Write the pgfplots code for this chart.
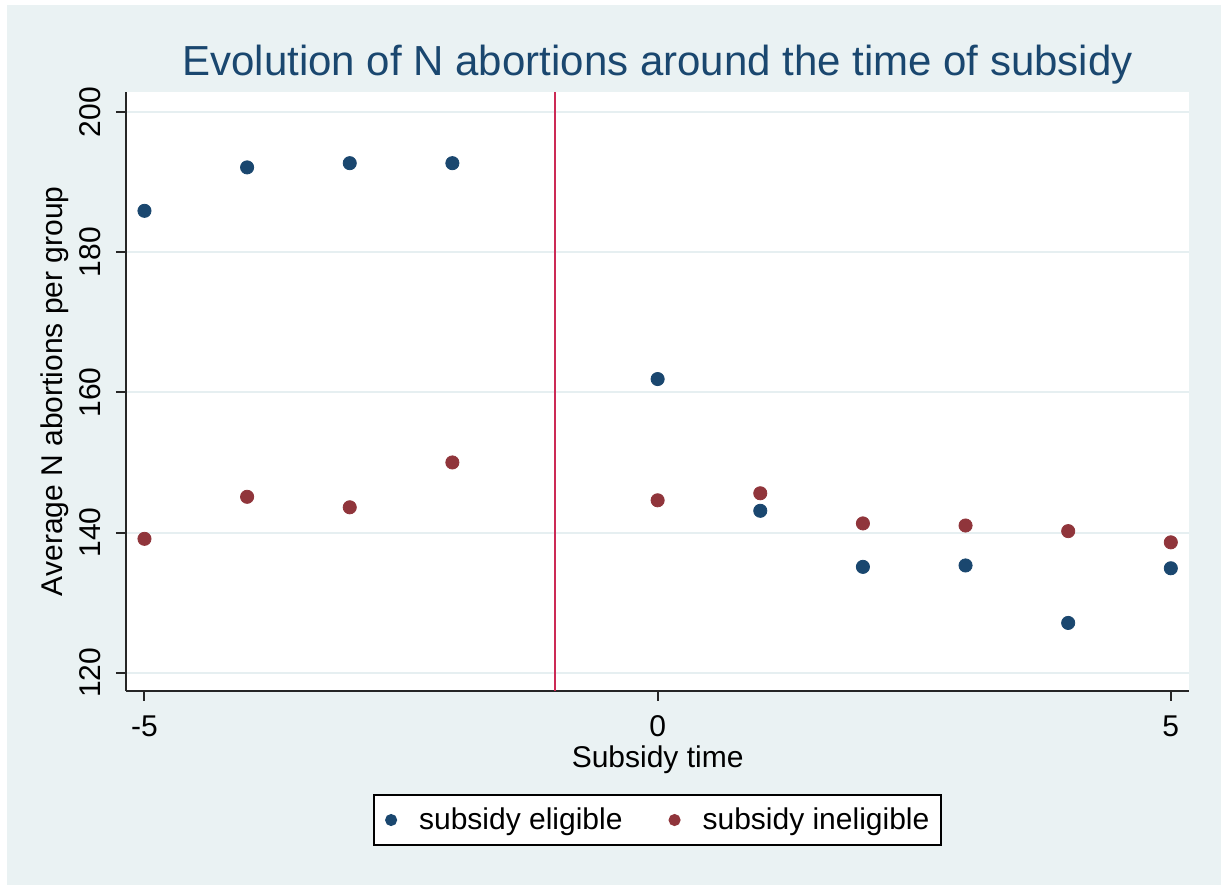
\documentclass[border=0pt]{standalone}
\usepackage{fontspec}
\setmainfont{Liberation Sans}
\usepackage{pgfplots}
\pgfplotsset{compat=1.18}

\definecolor{stbg}{HTML}{EAF2F3}
\definecolor{stnavy}{HTML}{1A476F}
\definecolor{stmaroon}{HTML}{90353B}
\definecolor{stline}{HTML}{CC2A55}
\definecolor{stgrid}{HTML}{E6EFF1}

\begin{document}
\begin{tikzpicture}
\useasboundingbox (0,0) rectangle (610.5pt,442.5pt);
\fill[white] (0,0) rectangle (610.5pt,442.5pt);
\fill[stbg] (3.5pt,0) rectangle (610.5pt,440pt);
\begin{axis}[
	at={(63pt,97.15pt)}, anchor=south west,
	scale only axis, width=531.65pt, height=299.5pt,
	xmin=-5.18, xmax=5.18, ymin=117.43, ymax=202.9,
	axis x line*=bottom, axis y line*=left,
	axis line style={line width=1pt, color=black!85},
	axis background/.style={fill=white},
	tick align=outside, major tick length=5pt,
	tick style={line width=1pt, color=black!85},
	xtick={-5,0,5}, xticklabels={-5,0,5},
	ytick={120,140,160,180,200}, yticklabels={120,140,160,180,200},
	ymajorgrids, grid style={stgrid, line width=1pt},
	every tick label/.append style={font=\fontsize{15}{18}\selectfont},
	xticklabel style={anchor=base}, xticklabel shift=18pt,
	yticklabel style={rotate=90, anchor=base}, yticklabel shift=8pt,
	title={Evolution of N abortions around the time of subsidy},
	title style={at={(0.5,1)}, anchor=base, yshift=1.85pt, font=\fontsize{21}{25}\selectfont, text=stnavy},
	xlabel={Subsidy time},
	xlabel style={at={(axis description cs:0.5,0)}, anchor=base, yshift=-38.2pt, font=\fontsize{15}{18}\selectfont},
	ylabel={Average N abortions per group},
	ylabel style={at={(axis description cs:-0.06,0.5)}, anchor=base, font=\fontsize{15}{18}\selectfont},
	legend columns=2,
	legend cell align=left,
	legend image code/.code={
		\path[draw=none, fill=none] (-2.6pt,-3pt) rectangle (14pt,3pt);
		\draw[#1, mark size=2.5pt] plot coordinates {(0pt,0pt)};
	},
	legend style={at={(0.5,-0.2159)}, anchor=center, draw=black, line width=1pt, fill=white,
		inner xsep=6pt, inner ysep=6.5pt,
		font=\fontsize{15}{18}\selectfont,
		nodes={inner sep=0pt},
		/tikz/every even column/.append style={column sep=23.4pt}},
]
\draw[stline, line width=0.9pt] (axis cs:-1,117.43) -- (axis cs:-1,202.9);

\addplot[only marks, mark=*, mark size=3.3pt, color=stnavy, mark options={draw=stnavy, fill=stnavy}] coordinates {
	(-5,185.9) (-4,192.1) (-3,192.7) (-2,192.7)
	(0,161.9) (1,143.1) (2,135.1) (3,135.3) (4,127.1) (5,134.9)
};
\addlegendentry{subsidy eligible}

\addplot[only marks, mark=*, mark size=3.3pt, color=stmaroon, mark options={draw=stmaroon, fill=stmaroon}] coordinates {
	(-5,139.1) (-4,145.1) (-3,143.6) (-2,150.0)
	(0,144.6) (1,145.6) (2,141.3) (3,141.0) (4,140.2) (5,138.6)
};
\addlegendentry{subsidy ineligible}
\end{axis}
\end{tikzpicture}
\end{document}
